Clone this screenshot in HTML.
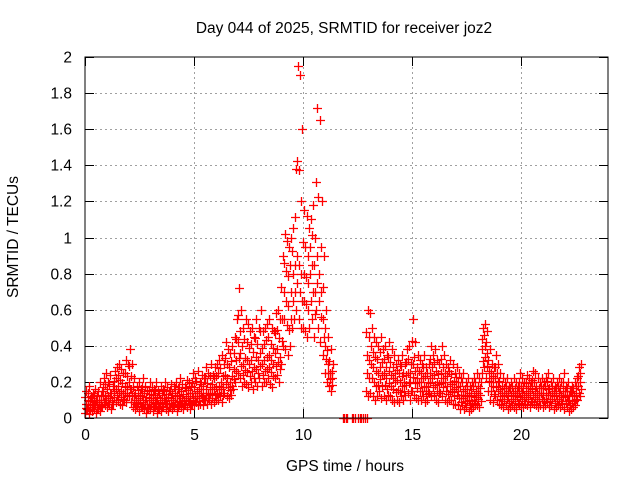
<!DOCTYPE html>
<html><head><meta charset="utf-8"><style>
body{margin:0;background:#fff;width:640px;height:480px;overflow:hidden}
svg text{font-family:"Liberation Sans",sans-serif;font-size:15.5px;fill:#000}
</style></head><body>
<svg id="chart" width="640" height="480" xmlns="http://www.w3.org/2000/svg">
<rect x="0" y="0" width="640" height="480" fill="#fff"/>
<g id="grid"></g>
<g id="ticks"></g>
<g id="pts"></g>
<rect x="85" y="57" width="523" height="361" fill="none" stroke="#000" stroke-width="1"/>
<text x="344" y="33" text-anchor="middle">Day 044 of 2025, SRMTID for receiver joz2</text>
<text x="345" y="471" text-anchor="middle">GPS time / hours</text>
<text x="0" y="0" transform="translate(18,237) rotate(-90)" text-anchor="middle">SRMTID / TECUs</text>
</svg>
<script>
const xTicks=[0,5,10,15,20];
const yTicks=[0,0.2,0.4,0.6,0.8,1,1.2,1.4,1.6,1.8,2];
const yTickLabels=["0","0.2","0.4","0.6","0.8","1","1.2","1.4","1.6","1.8","2"];
const step=0.1;
const hiVals=[.15,.18,.12,.14,.16,.13,.2,.15,.22,.25,
.2,.24,.18,.26,.28,.3,.27,.25,.32,.3,
.38,.3,.22,.18,.2,.16,.22,.18,.15,.2,
.17,.16,.2,.15,.18,.16,.2,.17,.15,.19,
.18,.2,.16,.22,.19,.17,.21,.2,.18,.25,
.22,.26,.2,.24,.22,.28,.25,.3,.24,.28,
.3,.32,.35,.3,.42,.38,.36,.4,.45,.55,
.72,.6,.5,.55,.52,.48,.5,.45,.55,.5,
.6,.48,.5,.52,.55,.5,.48,.58,.6,.55,
.9,1.02,.98,.95,1.0,1.05,1.38,1.95,1.9,1.6,
1.15,1.12,1.05,1.1,1.18,1.0,1.72,1.65,1.2,.9,
.6,.45,.38,.3,null,null,null,null,null,null,null,null,null,null,null,null,null,null,null,
.6,.58,.5,.45,.42,.4,.45,.38,.4,.35,.42,
.38,.35,.3,.32,.3,.35,.3,.38,.4,.3,
.55,.42,.35,.32,.3,.35,.28,.3,.4,.35,
.38,.32,.3,.4,.35,.3,.28,.32,.3,.25,
.28,.25,.22,.25,.2,.22,.18,.2,.22,.25,
.22,.2,.5,.52,.48,.38,.3,.28,.35,.3,
.25,.22,.2,.22,.18,.2,.22,.2,.18,.25,
.22,.2,.24,.22,.2,.26,.25,.22,.2,.22,
.2,.22,.25,.2,.22,.18,.2,.22,.2,.25,
.18,.2,.15,.18,.2,.22,.28,.3];
const midVals=[.08,.1,.07,.08,.09,.07,.1,.09,.12,.13,
.12,.14,.1,.15,.16,.18,.15,.14,.18,.17,
.2,.16,.12,.1,.11,.09,.12,.1,.08,.11,
.1,.09,.11,.08,.1,.09,.11,.1,.08,.11,
.1,.12,.09,.12,.11,.1,.12,.11,.1,.14,
.12,.15,.12,.14,.13,.16,.14,.17,.14,.16,
.17,.18,.2,.17,.24,.22,.2,.23,.27,.32,
.42,.36,.3,.33,.32,.3,.32,.28,.34,.32,
.36,.3,.32,.34,.35,.32,.3,.36,.38,.34,
.55,.7,.65,.62,.7,.8,.85,.9,.85,.8,
.8,.78,.75,.8,.85,.7,.9,.8,.7,.55,
.4,.3,.25,.22,null,null,null,null,null,null,null,null,null,null,null,null,null,null,null,
.35,.32,.3,.28,.26,.25,.28,.24,.25,.22,.26,
.24,.22,.2,.21,.2,.23,.2,.24,.25,.2,
.3,.26,.22,.2,.2,.22,.18,.2,.25,.22,
.24,.2,.19,.25,.22,.2,.18,.2,.19,.16,
.17,.15,.13,.15,.12,.13,.1,.12,.13,.15,
.14,.13,.38,.4,.36,.26,.2,.18,.22,.2,
.16,.14,.13,.14,.12,.13,.14,.13,.12,.15,
.14,.13,.15,.14,.13,.16,.15,.14,.13,.14,
.13,.14,.16,.13,.14,.12,.13,.14,.13,.15,
.12,.13,.1,.12,.13,.14,.18,.2];
const loVals=[.03,.05,.02,.04,.05,.03,.05,.04,.06,.07,
.06,.08,.05,.08,.09,.1,.08,.07,.1,.09,
.12,.09,.06,.05,.06,.04,.06,.05,.03,.05,
.05,.04,.06,.03,.05,.04,.06,.05,.04,.06,
.05,.06,.04,.07,.06,.05,.07,.06,.05,.08,
.07,.09,.07,.08,.07,.1,.08,.1,.08,.09,
.1,.1,.12,.09,.14,.12,.11,.13,.16,.2,
.25,.22,.18,.2,.19,.17,.2,.16,.2,.18,
.22,.18,.2,.2,.22,.19,.17,.22,.24,.2,
.3,.4,.38,.35,.4,.5,.55,.6,.55,.5,
.5,.48,.45,.5,.55,.45,.6,.5,.42,.35,
.25,.2,.18,.15,null,null,null,null,null,null,null,null,null,null,null,null,null,null,null,
.15,.12,.14,.12,.1,.12,.15,.11,.12,.1,.13,
.12,.1,.09,.1,.09,.12,.1,.13,.14,.1,
.15,.13,.11,.1,.1,.12,.09,.1,.14,.12,
.13,.1,.09,.14,.12,.1,.09,.1,.1,.08,
.08,.07,.05,.07,.05,.06,.04,.05,.06,.08,
.07,.06,.25,.28,.22,.15,.1,.09,.12,.1,
.08,.07,.06,.07,.05,.06,.07,.06,.05,.08,
.07,.06,.08,.07,.06,.09,.08,.07,.06,.07,
.06,.07,.09,.06,.07,.05,.06,.07,.06,.08,
.05,.06,.04,.05,.06,.07,.1,.12];
const zeroTimes=[11.83,11.9,11.97,12.04,12.25,12.32,12.4,12.52,12.6,12.68,12.76,12.84,12.92];
const zeroVals=[0,0,0,0,0,0,0,0,0,0,0,0,0];

const X0=85,X1=608,Y0=418,Y1=57,XMAX=24,YMAX=2;
function sx(t){return X0+(X1-X0)*t/XMAX;}
function sy(v){return Y0-(Y0-Y1)*v/YMAX;}
const NS="http://www.w3.org/2000/svg";
const grid=document.getElementById('grid'),ticks=document.getElementById('ticks'),pts=document.getElementById('pts');
function ln(g,x1,y1,x2,y2,st,da){const l=document.createElementNS(NS,'line');l.setAttribute('x1',x1);l.setAttribute('y1',y1);l.setAttribute('x2',x2);l.setAttribute('y2',y2);l.setAttribute('stroke',st);l.setAttribute('stroke-width',1);if(da)l.setAttribute('stroke-dasharray',da);g.appendChild(l);return l;}
function tx(x,y,s,anc,name){const t=document.createElementNS(NS,'text');t.setAttribute('x',x);t.setAttribute('y',y);t.setAttribute('text-anchor',anc);t.textContent=s;


ticks.appendChild(t);}
yTicks.forEach((v,i)=>{const y=Math.round(sy(v))+0.5;
 if(i>0&&i<yTicks.length-1){const g=ln(grid,X0,y,X1,y,'#a0a0a0','2,3');
 
 }
 ln(ticks,X0,y,X0+9,y,'#000');ln(ticks,X1-9,y,X1,y,'#000');
 tx(X0-13,y+5,yTickLabels[i],'end','y-tick-label');});
xTicks.forEach(v=>{const x=Math.round(sx(v))+0.5;
 if(v>0){const g=ln(grid,x,Y1,x,Y0,'#a0a0a0','2,3');
 
 }
 ln(ticks,x,Y0,x,Y0-9,'#000');ln(ticks,x,Y1,x,Y1+9,'#000');
 tx(x,Y0+22,String(v),'middle','x-tick-label');});
function plus(t,v){if(v===null)return;const x=Math.round(sx(t))+0.5,y=Math.round(sy(v))+0.5;
 const p=document.createElementNS(NS,'path');
 p.setAttribute('d',`M${x-4.5} ${y}H${x+4.5}M${x} ${y-4.5}V${y+4.5}`);
 p.setAttribute('stroke','#f00');p.setAttribute('stroke-width',1.3);p.setAttribute('fill','none');
 
 
 pts.appendChild(p);}
hiVals.forEach((v,i)=>{const t=i*step;
 plus(t,loVals[i]);plus(t+step*0.33,midVals[i]);plus(t+step*0.66,v);
 if(v!==null){plus(t+step*0.5,(midVals[i]+loVals[i])/2);plus(t+step*0.15,(midVals[i]+v)/2);}});
zeroTimes.forEach((t,i)=>plus(t,zeroVals[i]));
</script>
</body></html>
